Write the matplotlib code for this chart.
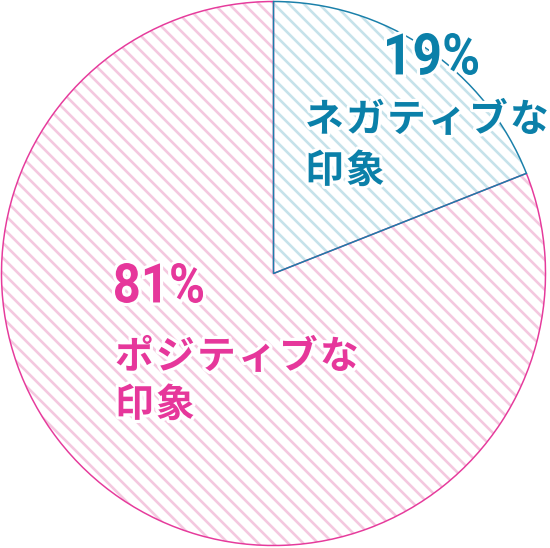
import matplotlib
matplotlib.use("Agg")
import matplotlib.pyplot as plt
import matplotlib.patheffects as pe
from matplotlib.textpath import TextPath
from matplotlib.patches import PathPatch
from matplotlib.font_manager import FontProperties
from matplotlib.transforms import Affine2D

# data
labels = [["ネガティブな", "印象"], ["ポジティブな", "印象"]]
values = [19, 81]
pct_text = ["19%", "81%"]
stripe_colors = ["#c6e2ea", "#f4c8df"]
edge_colors = ["#1a80aa", "#e63b9c"]
text_colors = ["#0b80a9", "#e6379b"]

DPI = 90
plt.rcParams["hatch.linewidth"] = 2.1
plt.rcParams["font.family"] = ["Noto Sans CJK JP", "DejaVu Sans"]

fig = plt.figure(figsize=(550 / DPI, 548 / DPI), dpi=DPI)
ax = fig.add_axes([0, 0, 1, 1])

center = (273.5, 273.5)
radius = 272

# y axis is flipped (pixel coords), so startangle -90 / counterclock=True
# means: start at top, go clockwise on screen
fills, _ = ax.pie(values, startangle=-90, counterclock=True, center=center,
                  radius=radius, frame=True,
                  wedgeprops=dict(fill=False, linewidth=0))
for w, c in zip(fills, stripe_colors):
    w.set_hatch("\\\\")
    w.set_edgecolor(c)

outlines, _ = ax.pie(values, startangle=-90, counterclock=True, center=center,
                     radius=radius, frame=True,
                     wedgeprops=dict(fill=False, linewidth=1.2))
for w, c, z in zip(outlines, edge_colors, [4, 3]):
    w.set_edgecolor(c)
    w.set_zorder(z)

ax.set_xlim(0, 550)
ax.set_ylim(548, 0)
ax.set_aspect("equal")
ax.axis("off")

halo = [pe.withStroke(linewidth=5, foreground="white")]


def fitted_text(s, box, color):
    """draw s squeezed into the pixel box (x0, y0, x1, y1)"""
    tp = TextPath((0, 0), s, size=50,
                  prop=FontProperties(family="Roboto", weight="bold"))
    ext = tp.get_extents()
    x0, y0, x1, y1 = box
    sx = (x1 - x0) / ext.width
    sy = (y1 - y0) / ext.height
    tr = (Affine2D().translate(-ext.x0, -ext.y0).scale(sx, -sy)
          .translate(x0, y1))
    p = PathPatch(tr.transform_path(tp), facecolor=color, edgecolor="none",
                  zorder=6, path_effects=halo)
    ax.add_patch(p)


pct_box = [(387, 33, 478, 75), (115, 263, 203, 303)]
for s, b, c in zip(pct_text, pct_box, text_colors):
    fitted_text(s, b, c)

# labels, one glyph at a time for the wide letter spacing
lab_x = [305, 115]
lab_y = [[120, 171], [357, 405]]
step = 41
for lines, x, ys, c in zip(labels, lab_x, lab_y, text_colors):
    for line, y in zip(lines, ys):
        for i, ch in enumerate(line):
            ax.text(x + i * step, y, ch, color=c, fontsize=31,
                    fontweight="bold", ha="left", va="center", zorder=6,
                    path_effects=halo)

fig.savefig("out.png", dpi=DPI)
